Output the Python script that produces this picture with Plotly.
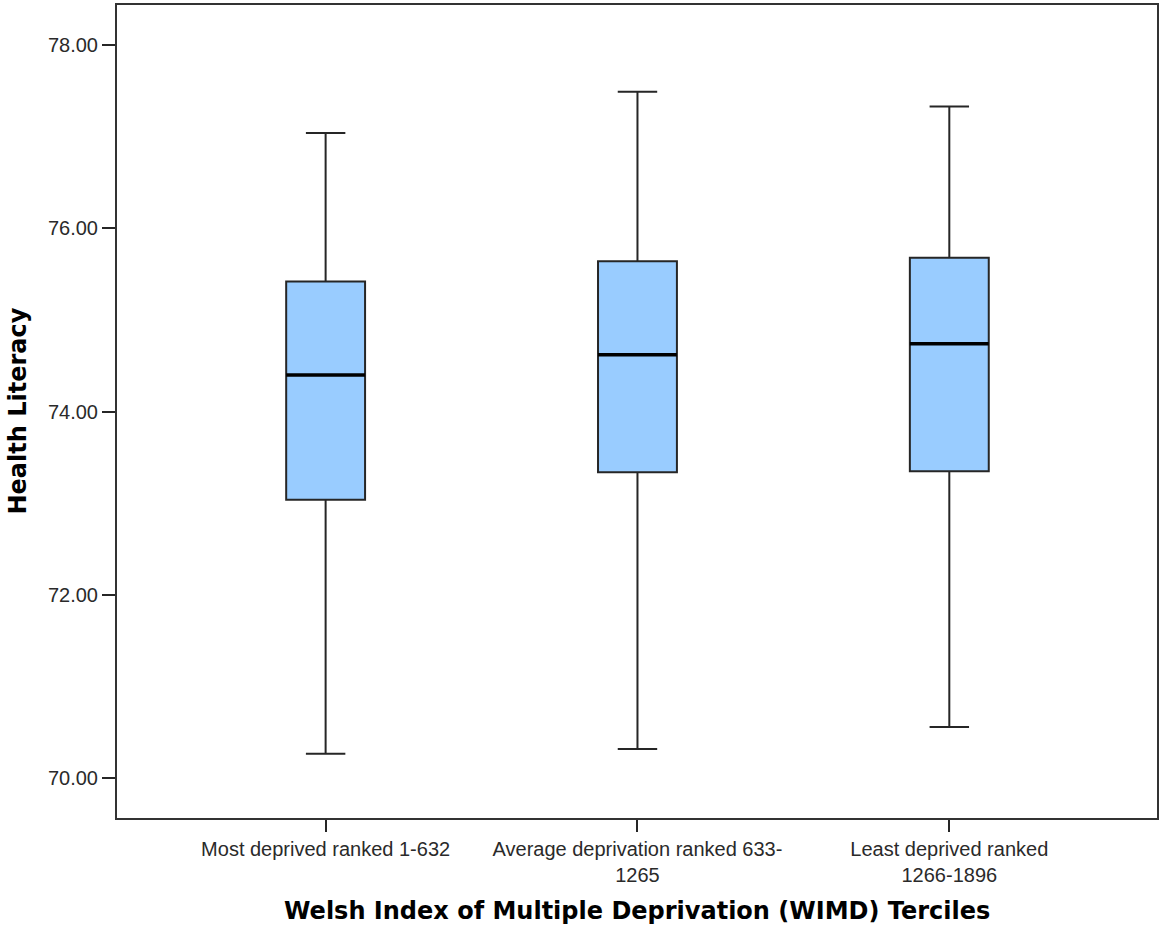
import plotly.graph_objects as go

# WIMD tercile groups
categories = [
    "Most deprived ranked 1-632",
    "Average deprivation ranked 633-<br>1265",
    "Least deprived ranked<br>1266-1896",
]

# Box-plot summary statistics for Health Literacy
lower_whisker = [70.27, 70.32, 70.56]
q1 = [73.04, 73.34, 73.35]
median = [74.40, 74.62, 74.74]
q3 = [75.42, 75.64, 75.68]
upper_whisker = [77.04, 77.49, 77.33]

y_ticks = [70, 72, 74, 76, 78]

BOX_W = 0.253
FILL = "#99ccff"
EDGE = "#262626"
TICK_FONT = dict(family="Liberation Sans, Arial, sans-serif", size=20, color="#2a2a2a")
TITLE_FONT = dict(family="DejaVu Sans, Verdana, sans-serif", size=24, color="#000000")

fig = go.Figure()

for i in range(len(median)):
    fig.add_trace(go.Box(
        x=[i], q1=[q1[i]], median=[median[i]], q3=[q3[i]],
        lowerfence=[lower_whisker[i]], upperfence=[upper_whisker[i]],
        width=BOX_W, whiskerwidth=0.5,
        fillcolor=FILL, line=dict(color=EDGE, width=2),
        boxpoints=False, hoverinfo="skip", showlegend=False,
    ))
    # heavier median bar across the box
    fig.add_trace(go.Scatter(
        x=[i - BOX_W / 2, i + BOX_W / 2], y=[median[i], median[i]],
        mode="lines", line=dict(color="#000000", width=3.5),
        hoverinfo="skip", showlegend=False,
    ))

fig.add_annotation(x=0.5, xref="paper", y=0, yref="paper", yanchor="middle",
                   yshift=-93, text="<b>Welsh Index of Multiple Deprivation (WIMD) Terciles</b>",
                   showarrow=False, font=TITLE_FONT)
fig.add_annotation(x=0, xref="paper", y=0.5, yref="paper", xanchor="center",
                   xshift=-100, textangle=-90, text="<b>Health Literacy</b>",
                   showarrow=False, font=TITLE_FONT)

fig.update_layout(
    width=1162, height=925,
    margin=dict(l=117, r=3, t=4, b=107),
    paper_bgcolor="white", plot_bgcolor="white",
    showlegend=False,
)
fig.update_xaxes(
    range=[-0.669, 2.666], tickvals=[0, 1, 2], ticktext=categories,
    tickfont=TICK_FONT, tickangle=0,
    ticks="outside", ticklen=12, tickwidth=1.5, tickcolor=EDGE,
    showgrid=False, zeroline=False,
    showline=True, linecolor="#333333", linewidth=2, mirror=True,
)
fig.update_yaxes(
    range=[69.568, 78.436], tickvals=y_ticks,
    ticktext=[f"{v:.2f}" for v in y_ticks], tickfont=TICK_FONT,
    ticks="outside", ticklen=13, tickwidth=1.5, tickcolor=EDGE,
    showgrid=False, zeroline=False,
    showline=True, linecolor="#333333", linewidth=2, mirror=True,
)

fig.write_html("out.html")
